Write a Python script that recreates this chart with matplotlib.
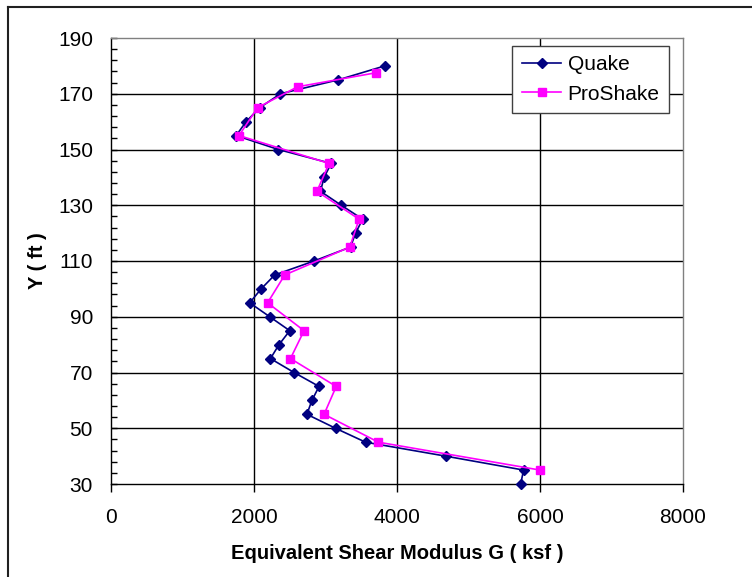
import matplotlib
matplotlib.use('Agg')
import matplotlib.pyplot as plt
from matplotlib.lines import Line2D
from matplotlib.ticker import FixedLocator
import numpy as np

plt.rcParams['font.family'] = ['Liberation Sans', 'DejaVu Sans']

# depth (ft) and shear modulus G (ksf)
quake_y = [180, 175, 170, 165, 160, 155, 150, 145, 140, 135, 130, 125, 120, 115, 110, 105,
           100, 95, 90, 85, 80, 75, 70, 65, 60, 55, 50, 45, 40, 35, 30]
quake_g = [3830, 3180, 2370, 2080, 1890, 1750, 2340, 3080, 2980, 2930, 3220, 3520, 3420, 3350,
           2840, 2290, 2100, 1940, 2220, 2500, 2350, 2230, 2560, 2910, 2810, 2740, 3140, 3560,
           4680, 5770, 5730]

proshake_y = [177.5, 172.5, 165, 155, 145, 135, 125, 115, 105, 95, 85, 75, 65, 55, 45, 35]
proshake_g = [3700, 2610, 2050, 1790, 3050, 2880, 3470, 3340, 2430, 2190, 2700, 2510, 3150,
              2980, 3740, 6000]

y_ticks = [30, 50, 70, 90, 110, 130, 150, 170, 190]
x_ticks = [0, 2000, 4000, 6000, 8000]

fig = plt.figure(figsize=(7.52, 5.77), dpi=100)
ax = fig.add_axes([111 / 752, 1 - 484 / 577, 572 / 752, 446 / 577])

ax.plot(quake_g, quake_y, color='#000080', lw=1.2, marker='D', ms=5.5,
        mfc='#000080', mec='#000080', zorder=3, clip_on=False)
ax.plot(proshake_g, proshake_y, color='#FF00FF', lw=1.2, marker='s', ms=6,
        mfc='#FF00FF', mec='#FF00FF', zorder=4, clip_on=False)

ax.set_xlim(0, 8000)
ax.set_ylim(30, 190)
ax.set_xticks(x_ticks)
ax.set_yticks(y_ticks)
ax.yaxis.set_minor_locator(FixedLocator(np.arange(30, 191, 4)))

for y in y_ticks[1:-1]:
    ax.axhline(y, color='black', lw=1, zorder=1)
for x in x_ticks[1:-1]:
    ax.axvline(x, color='black', lw=1, zorder=1)

ax.spines['top'].set_color('#808080')
ax.spines['right'].set_color('#808080')
for s in ax.spines.values():
    s.set_linewidth(1)

ax.tick_params(axis='x', which='major', direction='out', length=5.5, width=1,
               labelsize=15, pad=12)
ax.tick_params(axis='y', which='major', direction='in', length=4, width=1,
               labelsize=15, pad=13)
ax.tick_params(axis='y', which='minor', direction='in', length=4.5, width=1)

ax.set_xlabel('Equivalent Shear Modulus G ( ksf )', fontsize=14.5, fontweight='bold',
              labelpad=12)
ax.set_ylabel('Y ( ft )', fontsize=14.5, fontweight='bold', labelpad=8)

handles = [Line2D([], [], color='#000080', lw=1.2, marker='D', ms=5, label='Quake'),
           Line2D([], [], color='#FF00FF', lw=1.2, marker='s', ms=5.5, label='ProShake')]
leg = ax.legend(handles=handles, loc='upper right', bbox_to_anchor=(669 / 752, 1 - 46 / 577),
                bbox_transform=fig.transFigure, fontsize=15, fancybox=False,
                framealpha=1, edgecolor='#404040', borderpad=0.45, labelspacing=0.5,
                handlelength=1.9, handletextpad=0.3, borderaxespad=0)
leg.get_frame().set_linewidth(1)

# chart border (top and left edges visible in the crop)
fig.add_artist(Line2D([8 / 752, 1], [1 - 7 / 577, 1 - 7 / 577], color='#202020', lw=1.5,
                      transform=fig.transFigure))
fig.add_artist(Line2D([8 / 752, 8 / 752], [0, 1 - 7 / 577], color='#202020', lw=1.5,
                      transform=fig.transFigure))

fig.savefig('out.png', dpi=100)
